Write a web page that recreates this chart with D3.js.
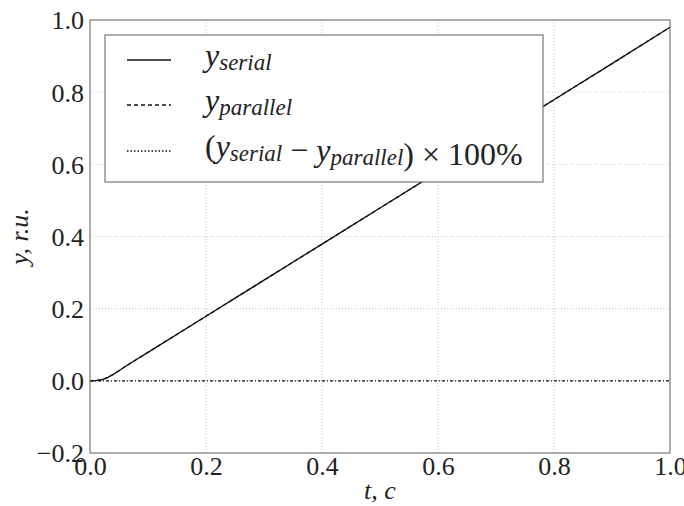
<!DOCTYPE html>
<html>
<head>
  <meta charset="UTF-8">
  <title>y(t)</title>
  <style>
    body { margin: 0; background: #fff; }
    .grid line { stroke: #bbb; stroke-width: 0.8; stroke-dasharray: 1,2; }
  </style>
</head>
<body>
  <div id="chart"></div>

  <script src="https://d3js.org/d3.v7.min.js"></script>
  <script>
    // time points and series
    const tValues = [0, 0.01, 0.02, 0.03, 0.04, 0.05, 0.06, 0.08, 0.1, 0.2, 0.3, 0.4, 0.5, 0.6, 0.7, 0.8, 0.9, 1.0];
    const ySerial = [0, 0.0005, 0.003, 0.009, 0.018, 0.028, 0.039, 0.059, 0.079, 0.179, 0.279, 0.379, 0.479, 0.579, 0.679, 0.779, 0.879, 0.98];
    const yParallel = [0, 0.0005, 0.003, 0.009, 0.018, 0.028, 0.039, 0.059, 0.079, 0.179, 0.279, 0.379, 0.479, 0.579, 0.679, 0.779, 0.879, 0.98];
    const yDiff = [0, 0, 0, 0, 0, 0, 0, 0, 0, 0, 0, 0, 0, 0, 0, 0, 0, 0];

    const xTicks = [0.0, 0.2, 0.4, 0.6, 0.8, 1.0];
    const yTicks = [-0.2, 0.0, 0.2, 0.4, 0.6, 0.8, 1.0];

    const width = 684, height = 506;
    const margin = { top: 20, right: 14, bottom: 53, left: 90 };
    const serif = "Liberation Serif";

    const svg = d3.select("#chart").append("svg")
      .attr("width", width).attr("height", height)
      .attr("font-family", serif);

    const x = d3.scaleLinear().domain([0, 1]).range([margin.left, width - margin.right]);
    const y = d3.scaleLinear().domain([-0.2, 1]).range([height - margin.bottom, margin.top]);

    // grid
    const grid = svg.append("g").attr("class", "grid");
    grid.selectAll(".gx").data(xTicks.slice(1, -1)).enter().append("line")
      .attr("x1", d => x(d)).attr("x2", d => x(d))
      .attr("y1", y(-0.2)).attr("y2", y(1));
    grid.selectAll(".gy").data(yTicks.slice(1, -1)).enter().append("line")
      .attr("y1", d => y(d)).attr("y2", d => y(d))
      .attr("x1", x(0)).attr("x2", x(1));

    // axes, labels only
    const fmt = d => d < 0 ? "\u2212" + Math.abs(d).toFixed(1) : d.toFixed(1);
    const xAxis = svg.append("g")
      .attr("transform", `translate(0,${y(-0.2)})`)
      .call(d3.axisBottom(x).tickValues(xTicks).tickFormat(fmt).tickSize(0).tickPadding(0));
    const yAxis = svg.append("g")
      .attr("transform", `translate(${x(0)},0)`)
      .call(d3.axisLeft(y).tickValues(yTicks).tickFormat(fmt).tickSize(0).tickPadding(6));
    [xAxis, yAxis].forEach(a => {
      a.attr("font-family", serif).attr("font-size", 26);
      a.select(".domain").remove();
      a.selectAll("text").attr("fill", "#222");
    });
    xAxis.selectAll("text").attr("y", 22).attr("dy", 0);
    yAxis.selectAll("text").attr("dy", "0.34em");

    // curves
    const line = d3.line().x((d, i) => x(tValues[i])).y(d => y(d));
    const series = [
      { values: ySerial, dash: null },
      { values: yParallel, dash: "4,3" },
      { values: yDiff, dash: "3,2,1,2" }
    ];
    svg.selectAll(".curve").data(series).enter().append("path")
      .attr("class", "curve")
      .attr("d", d => line(d.values))
      .attr("fill", "none")
      .attr("stroke", "#111")
      .attr("stroke-width", 1.3)
      .attr("stroke-dasharray", d => d.dash);

    // frame
    svg.append("rect")
      .attr("x", x(0)).attr("y", y(1))
      .attr("width", x(1) - x(0)).attr("height", y(-0.2) - y(1))
      .attr("fill", "none").attr("stroke", "#777").attr("stroke-width", 1.2);

    // axis titles
    const xt = svg.append("text")
      .attr("x", x(0.5)).attr("y", 499).attr("fill", "#222")
      .attr("text-anchor", "middle").attr("font-size", 26).attr("font-style", "italic");
    xt.append("tspan").text("t");
    xt.append("tspan").text(", ");
    xt.append("tspan").text("c");

    const yt = svg.append("text")
      .attr("transform", `translate(28,${y(0.4)}) rotate(-90)`).attr("fill", "#222")
      .attr("text-anchor", "middle").attr("font-size", 26).attr("font-style", "italic");
    yt.append("tspan").text("y");
    yt.append("tspan").text(", ");
    yt.append("tspan").text("r.u.");

    // legend
    const legend = svg.append("g");
    legend.append("rect")
      .attr("x", 105).attr("y", 35).attr("width", 438).attr("height", 147)
      .attr("fill", "#fff").attr("stroke", "#777").attr("stroke-width", 1.2);

    const rows = [
      { dash: null, parts: [["y", "serial"]] },
      { dash: "4,3", parts: [["y", "parallel"]] },
      { dash: "1.5,2", parts: [["(", null], ["y", "serial"], [" \u2212 ", null], ["y", "parallel"], [") \u00d7 100%", null]] }
    ];
    const rowY = [60, 105, 151];
    rows.forEach((r, i) => {
      legend.append("line")
        .attr("x1", 127).attr("x2", 171).attr("y1", rowY[i]).attr("y2", rowY[i])
        .attr("stroke", "#111").attr("stroke-width", 1.3)
        .attr("stroke-dasharray", r.dash);
      const t = legend.append("text")
        .attr("x", 205).attr("y", rowY[i] + 6).attr("fill", "#222")
        .attr("font-size", 32);
      r.parts.forEach(p => {
        if (p[1] === null) {
          t.append("tspan").attr("font-style", "normal").text(p[0]);
        } else {
          t.append("tspan").attr("font-style", "italic").text(p[0]);
          t.append("tspan").attr("font-style", "italic").attr("font-size", 23)
            .attr("dy", 4).text(p[1]);
          t.append("tspan").attr("dy", -4).text("");
        }
      });
    });
  </script>
</body>
</html>
